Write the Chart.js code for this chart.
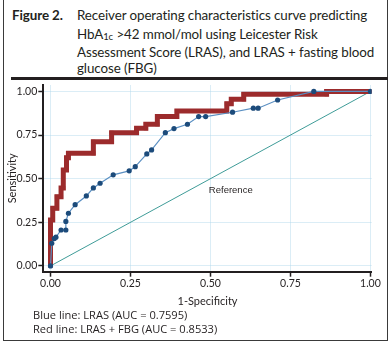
<!DOCTYPE html>
<html>
<head>
<meta charset="utf-8">
<script src="https://cdn.jsdelivr.net/npm/chart.js@4.4.1/dist/chart.umd.min.js"></script>
<style>
    html, body { margin: 0; padding: 0; background: #fff; }
    #wrap { position: relative; width: 390px; height: 343px; overflow: hidden; font-family: Lato, "Open Sans", sans-serif; color: #231f20; }
    #frame { position: absolute; left: 3px; top: -2px; width: 385px; height: 343px; border: 1.3px solid #3a3a3a; box-sizing: border-box; }
    #rule { position: absolute; left: 11px; top: 77px; width: 377px; height: 2.5px; background: #231f20; }
    .ttl { position: absolute; font-size: 13.4px; line-height: 18px; white-space: nowrap; letter-spacing: -0.1px; }
    .note { position: absolute; left: 33px; font-family: "Open Sans", sans-serif; font-size: 11.1px; line-height: 13px; white-space: nowrap; }
    #chart-roc { position: absolute; left: 0; top: 0; }
</style>
</head>
<body>
<div id="wrap">
    <div id="frame"></div>
    <div class="ttl" style="left:12px; top:6px; font-weight:bold;">Figure 2.</div>
    <div class="ttl" style="left:77px; top:6px;">Receiver operating characteristics curve predicting</div>
    <div class="ttl" style="left:77px; top:24.5px;">HbA<span style="font-size:9.5px; position:relative; top:1.5px;">1c</span> &gt;42 mmol/mol using Leicester Risk</div>
    <div class="ttl" style="left:77px; top:43px;">Assessment Score (LRAS), and LRAS + fasting blood</div>
    <div class="ttl" style="left:77px; top:59px;">glucose (FBG)</div>
    <canvas id="chart-roc" width="390" height="343"></canvas>
    <div id="rule"></div>
    <div class="note" style="top:308px;">Blue line: LRAS (AUC = 0.7595)</div>
    <div class="note" style="top:321.5px;">Red line: LRAS + FBG (AUC = 0.8533)</div>
</div>
<script>
// axis ticks for both axes
const tickValues = [0, 0.25, 0.5, 0.75, 1];

// LRAS alone (blue)
const lrasFpr = [0, 0.004, 0.012, 0.017, 0.033, 0.048, 0.048, 0.056, 0.077, 0.112, 0.134, 0.155, 0.196, 0.246, 0.265, 0.301, 0.316, 0.359, 0.386, 0.428, 0.463, 0.485, 0.569, 0.634, 0.649, 0.71, 0.823, 1];
const lrasTpr = [0, 0.13, 0.157, 0.165, 0.206, 0.206, 0.255, 0.302, 0.351, 0.401, 0.447, 0.474, 0.522, 0.545, 0.569, 0.642, 0.665, 0.764, 0.787, 0.812, 0.856, 0.856, 0.881, 0.904, 0.904, 0.951, 1, 1];

// LRAS + FBG (red), step curve corners
const comboFpr = [0, 0, 0.007, 0.007, 0.02, 0.02, 0.033, 0.033, 0.04, 0.04, 0.05, 0.05, 0.056, 0.056, 0.134, 0.134, 0.191, 0.191, 0.269, 0.269, 0.298, 0.298, 0.334, 0.334, 0.395, 0.395, 0.551, 0.551, 0.565, 0.565, 0.604, 0.604, 0.863, 0.863, 1];
const comboTpr = [0, 0.264, 0.264, 0.33, 0.33, 0.397, 0.397, 0.447, 0.447, 0.55, 0.55, 0.62, 0.62, 0.646, 0.646, 0.712, 0.712, 0.764, 0.764, 0.789, 0.789, 0.812, 0.812, 0.856, 0.856, 0.888, 0.888, 0.93, 0.93, 0.955, 0.955, 0.984, 0.984, 1, 1];

// chance diagonal
const refFpr = [0, 1];
const refTpr = [0, 1];
const refLabel = "Reference";

function toPoints(xs, ys) {
    return xs.map(function (x, i) { return { x: x, y: ys[i] }; });
}

const tickFont = { size: 10.5, family: "Lato" };
const gridStyle = {
    color: "rgba(175, 215, 235, .45)",
    lineWidth: 1,
    drawTicks: true,
    tickLength: 5,
    tickColor: "#231f20",
    tickWidth: 1.5
};

// "Reference" text next to the diagonal
const refLabelPlugin = {
    id: "refLabel",
    afterDatasetsDraw: function (chart) {
        const c = chart.ctx;
        const x = chart.scales.x.getPixelForValue(0.495);
        const y = chart.scales.y.getPixelForValue(0.431);
        c.save();
        c.font = "9.5px 'Liberation Sans'";
        c.fillStyle = "#231f20";
        c.textBaseline = "middle";
        c.fillText(refLabel, x, y);
        c.restore();
    }
};

var ctx = document.getElementById("chart-roc").getContext("2d");
new Chart(ctx, {
    type: "scatter",
    data: {
        datasets: [{
            label: "LRAS",
            data: toPoints(lrasFpr, lrasTpr),
            showLine: true,
            borderColor: "#5a8fc2",
            borderWidth: 1.2,
            pointRadius: 2.6,
            pointBackgroundColor: "#1c4b7b",
            pointBorderWidth: 0
        }, {
            label: "LRAS + FBG",
            data: toPoints(comboFpr, comboTpr),
            showLine: true,
            borderColor: "#9c2b2c",
            borderWidth: 5,
            borderJoinStyle: "miter",
            pointStyle: "rect",
            pointRadius: 2.8,
            pointBackgroundColor: "#9c2b2c",
            pointBorderWidth: 0
        }, {
            label: refLabel,
            data: toPoints(refFpr, refTpr),
            showLine: true,
            borderColor: "#3f9c98",
            borderWidth: 1,
            pointRadius: 0
        }]
    },
    options: {
        responsive: false,
        animation: false,
        layout: { padding: { left: 4, top: 85, right: 18.3, bottom: 34.7 } },
        plugins: {
            legend: { display: false },
            tooltip: { enabled: false }
        },
        scales: {
            x: {
                type: "linear",
                min: -0.0225,
                max: 1.004,
                afterBuildTicks: function (s) { s.ticks = tickValues.map(function (v) { return { value: v }; }); },
                afterFit: function (s) { s.height = 36.6; },
                grid: gridStyle,
                border: { display: true, color: "#231f20", width: 2 },
                ticks: {
                    font: tickFont,
                    color: "#231f20",
                    padding: 1,
                    maxRotation: 0,
                    callback: function (v) { return v.toFixed(2); }
                },
                title: {
                    display: true,
                    text: "1-Specificity",
                    font: { size: 11, family: "Lato" },
                    color: "#231f20",
                    padding: 0
                }
            },
            y: {
                type: "linear",
                min: -0.033,
                max: 1.037,
                afterBuildTicks: function (s) { s.ticks = tickValues.map(function (v) { return { value: v }; }); },
                afterFit: function (s) { s.width = 39.3; },
                grid: gridStyle,
                border: { display: true, color: "#231f20", width: 2 },
                ticks: {
                    font: tickFont,
                    color: "#231f20",
                    padding: 1,
                    callback: function (v) { return v.toFixed(2); }
                },
                title: {
                    display: true,
                    text: "Sensitivity",
                    font: { size: 11, family: "Lato" },
                    color: "#231f20",
                    padding: 2
                }
            }
        }
    },
    plugins: [refLabelPlugin]
});
</script>
</body>
</html>
